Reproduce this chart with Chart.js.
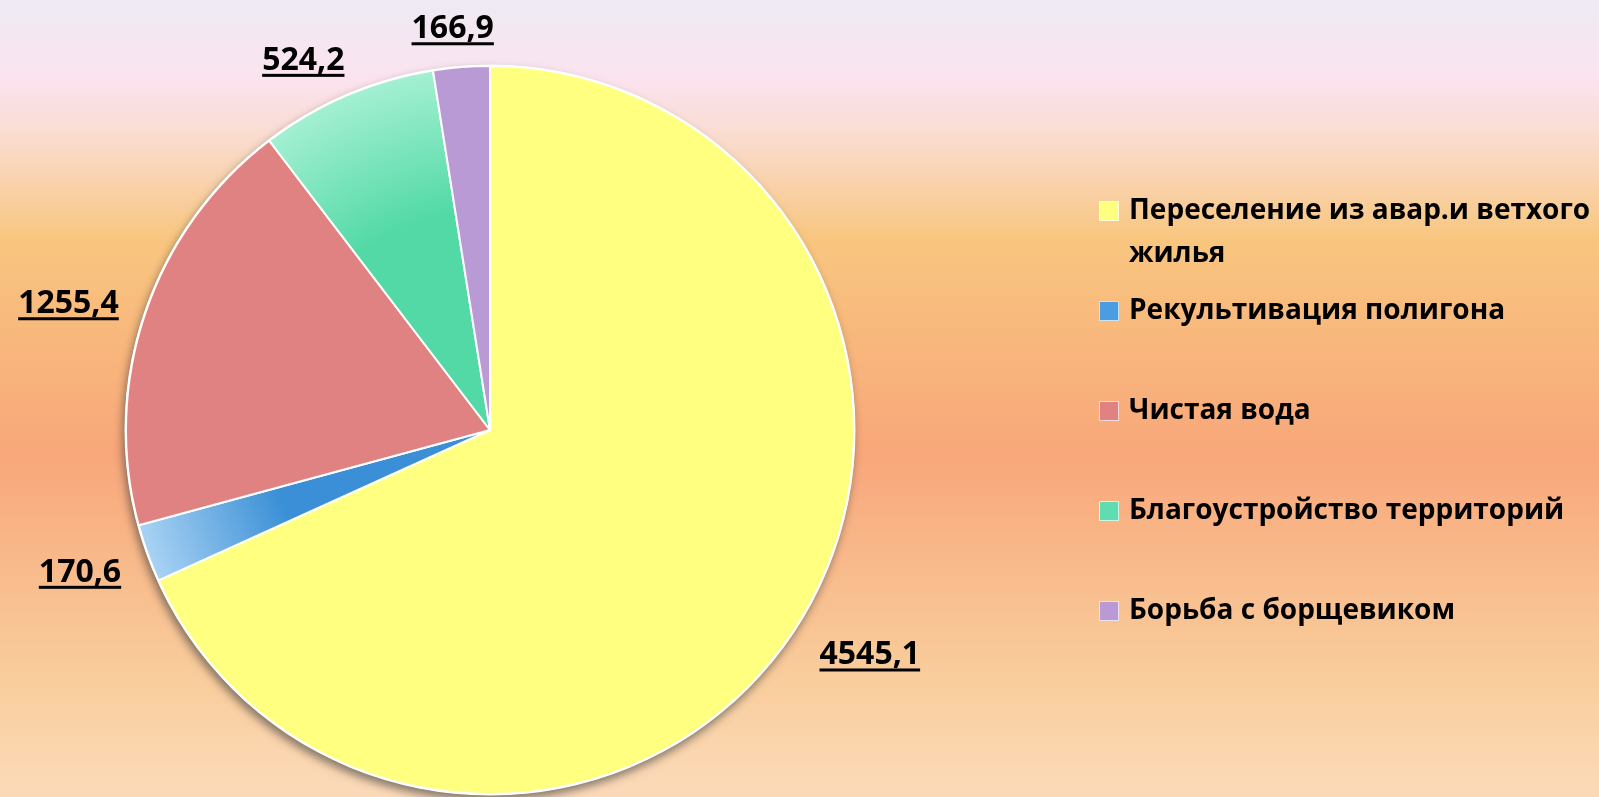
<!DOCTYPE html>
<html>
<head>
<meta charset="utf-8">
<script src="https://cdn.jsdelivr.net/npm/chart.js"></script>
<style>
  body { margin: 0; }
</style>
</head>
<body>
<canvas id="myChart" width="1599" height="797"></canvas>
<script>
const categorias = ['Переселение из авар.и ветхого жилья', 'Рекультивация полигона', 'Чистая вода', 'Благоустройство территорий', 'Борьба с борщевиком'];
const valores = [4545.1, 170.6, 1255.4, 524.2, 166.9];
const etiquetas = ['4545,1', '170,6', '1255,4', '524,2', '166,9'];
const colores = ['#FFFF80', '#4A9DE0', '#E08282', '#5FDDB0', '#B99AD5'];

// relleno con degradado para azul y verde
const degradados = { 1: ['#3A8FD6', '#AAD3F4'], 3: ['#52D9A6', '#A4F0D2'] };

function colorSector(context) {
  const i = context.dataIndex;
  const chart = context.chart;
  const area = chart.chartArea;
  if (!degradados[i] || !area) return colores[i];
  const cx = (area.left + area.right) / 2;
  const cy = (area.top + area.bottom) / 2;
  const r = Math.min(area.width, area.height) / 2;
  const g = chart.ctx.createRadialGradient(cx, cy, 0, cx, cy, r);
  g.addColorStop(0.2, degradados[i][0]);
  g.addColorStop(0.6, degradados[i][0]);
  g.addColorStop(1, degradados[i][1]);
  return g;
}

const fondoPlugin = {
  id: 'fondo',
  beforeDraw(chart) {
    const ctx = chart.ctx;
    const g = ctx.createLinearGradient(0, 0, 0, chart.height);
    g.addColorStop(0, '#EEEAF3');
    g.addColorStop(0.1, '#FBE3EF');
    g.addColorStop(0.18, '#FADBCB');
    g.addColorStop(0.3, '#F8C67F');
    g.addColorStop(0.57, '#F8A77A');
    g.addColorStop(0.85, '#F9CD9C');
    g.addColorStop(1, '#FBDAB9');
    ctx.save();
    ctx.fillStyle = g;
    ctx.fillRect(0, 0, chart.width, chart.height);
    ctx.restore();
  }
};

const sombraPlugin = {
  id: 'sombra',
  beforeDatasetsDraw(chart) {
    const arc = chart.getDatasetMeta(0).data[0];
    if (!arc) return;
    const ctx = chart.ctx;
    ctx.save();
    ctx.shadowColor = 'rgba(60,60,60,0.6)';
    ctx.shadowBlur = 8;
    ctx.shadowOffsetX = -2;
    ctx.shadowOffsetY = 5;
    ctx.fillStyle = '#ffffff';
    ctx.beginPath();
    ctx.arc(arc.x, arc.y, arc.outerRadius + 1.5, 0, Math.PI * 2);
    ctx.fill();
    ctx.restore();
  }
};

const etiquetasPlugin = {
  id: 'etiquetas',
  afterDatasetsDraw(chart) {
    const ctx = chart.ctx;
    const arcs = chart.getDatasetMeta(0).data;
    ctx.save();
    ctx.font = 'bold 32px "Open Sans"';
    ctx.fillStyle = '#000';
    ctx.textAlign = 'center';
    ctx.textBaseline = 'alphabetic';
    arcs.forEach((arc, i) => {
      const ang = (arc.startAngle + arc.endAngle) / 2;
      const cos = Math.cos(ang), sin = Math.sin(ang);
      const r = arc.outerRadius + 28;
      const texto = etiquetas[i];
      const w = ctx.measureText(texto).width;
      const x = arc.x + r * cos + w / 2 * Math.sign(cos) * Math.min(1, Math.abs(cos) * 2);
      const y = arc.y + r * sin + 15 * sin + 3;
      ctx.fillText(texto, x, y + 11);
      ctx.fillRect(x - w / 2, y + 15, w, 3);
    });
    ctx.restore();
  }
};

const leyendaPlugin = {
  id: 'leyenda',
  afterDraw(chart) {
    const ctx = chart.ctx;
    ctx.save();
    ctx.font = 'bold 28px "Open Sans"';
    ctx.textBaseline = 'middle';
    ctx.textAlign = 'left';
    const x0 = 1099, xt = 1129;
    const maxW = chart.width - xt;
    categorias.forEach((cat, i) => {
      const y = 211 + i * 100;
      ctx.fillStyle = colores[i];
      ctx.fillRect(x0, y - 10, 20, 20);
      ctx.strokeStyle = 'rgba(255,255,255,0.7)';
      ctx.lineWidth = 1;
      ctx.strokeRect(x0 + 0.5, y - 9.5, 19, 19);
      // partir el texto en lineas
      const palabras = cat.split(' ');
      const lineas = [];
      let linea = '';
      palabras.forEach((p) => {
        const prueba = linea ? linea + ' ' + p : p;
        if (ctx.measureText(prueba).width > maxW && linea) {
          lineas.push(linea);
          linea = p;
        } else {
          linea = prueba;
        }
      });
      lineas.push(linea);
      ctx.fillStyle = '#000';
      lineas.forEach((l, j) => ctx.fillText(l, xt, y + j * 43));
    });
    ctx.restore();
  }
};

const data = {
  labels: categorias,
  datasets: [{
    data: valores,
    backgroundColor: colorSector,
    borderColor: '#ffffff',
    borderWidth: 2
  }]
};

const config = {
  type: 'pie',
  data: data,
  options: {
    responsive: false,
    animation: false,
    layout: { padding: { left: 125, right: 744, top: 65, bottom: 2 } },
    plugins: {
      legend: { display: false },
      tooltip: { enabled: false }
    }
  },
  plugins: [fondoPlugin, sombraPlugin, etiquetasPlugin, leyendaPlugin]
};

const myChart = new Chart(document.getElementById('myChart'), config);
</script>
</body>
</html>
